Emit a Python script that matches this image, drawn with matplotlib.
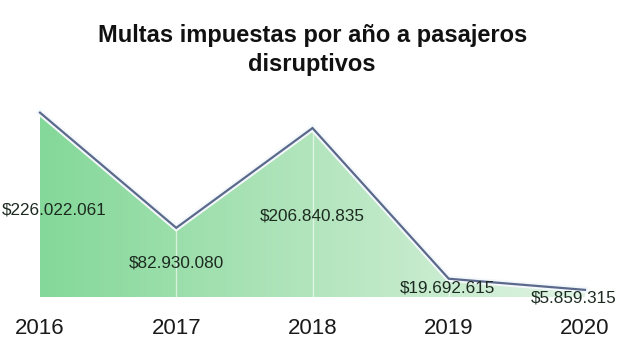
import matplotlib
matplotlib.use("Agg")
import matplotlib.pyplot as plt
import matplotlib.patheffects as pe
import numpy as np
from matplotlib.colors import LinearSegmentedColormap
from matplotlib.patches import Polygon

plt.rcParams['font.family'] = ['Liberation Sans', 'DejaVu Sans']

years = ["2016", "2017", "2018", "2019", "2020"]
fines = [226022061, 82930080, 206840835, 19692615, 5859315]
labels = ["$226.022.061", "$82.930.080", "$206.840.835", "$19.692.615", "$5.859.315"]
title = "Multas impuestas por año a pasajeros\ndisruptivos"

W, H = 617, 340
fig = plt.figure(figsize=(W / 100, H / 100), dpi=100)
base_px = 43
ax = fig.add_axes([0, base_px / H, 1, 1 - base_px / H])

x = np.arange(len(years))
y = np.array(fines) / 1e6

px_per_unit = 136.25
ax.set_xlim(-40 / px_per_unit, 4 + (W - 585) / px_per_unit)
ax.set_ylim(0, (H - base_px) / 0.805)

# gradient area fill
cmap = LinearSegmentedColormap.from_list("g", ["#84d899", "#b3e5bd", "#e0f4e3"])
grad = np.linspace(0, 1, 256).reshape(1, -1)
im = ax.imshow(grad, cmap=cmap, aspect="auto",
               extent=[x[0], x[-1], 0, y.max()], zorder=1)
poly = Polygon(np.column_stack([np.r_[x, x[-1], x[0]], np.r_[y, 0, 0]]),
               closed=True, facecolor="none", edgecolor="none",
               transform=ax.transData)
ax.add_patch(poly)
im.set_clip_path(poly)

# faint separators at the inner points
for xi, yi in zip(x[1:-1], y[1:-1]):
    ax.plot([xi, xi], [0, yi], color="white", lw=1, alpha=0.6, zorder=2)

# series line with a light halo
ax.plot(x, y + 3, color="#5b6a8c", lw=1.6, zorder=3,
        solid_joinstyle="miter",
        path_effects=[pe.Stroke(linewidth=4.5, foreground="#f4f8fb"), pe.Normal()])

offsets = [(14, -95), (0, -33), (0, -86), (-1, -7), (-11, -6)]
for xi, yi, lab, (dx, dy) in zip(x, y, labels, offsets):
    ax.annotate(lab, (xi, yi), xytext=(dx * 0.72, dy * 0.72),
                textcoords="offset points", ha="center", va="center",
                fontsize=12.3, color="#1c2a20", zorder=4)

ax.set_xticks(x)
ax.set_xticklabels(years, fontsize=16, color="#1a1a1a")
ax.tick_params(axis="x", length=0, pad=15)
ax.set_yticks([])
for s in ax.spines.values():
    s.set_visible(False)

fig.text(0.506, 1 - 50 / H, title, ha="center", va="center",
         fontsize=17, fontweight="bold", color="#111111", linespacing=1.3)

fig.savefig("out.png", dpi=100)
